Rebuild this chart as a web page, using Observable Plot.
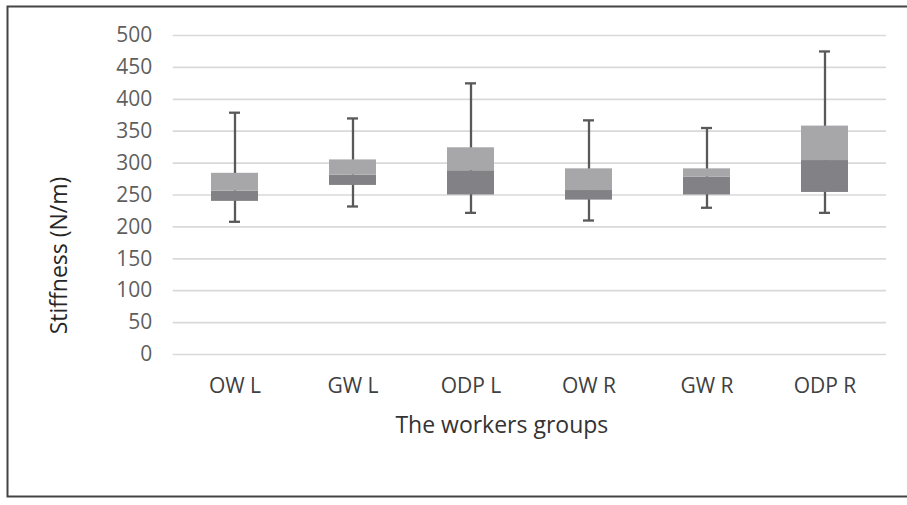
<!DOCTYPE html>
<html>
<head>
<meta charset="utf-8">
<script src="https://cdn.jsdelivr.net/npm/d3@7"></script>
<script src="https://cdn.jsdelivr.net/npm/@observablehq/plot@0.6"></script>
<style>
  html, body { margin: 0; padding: 0; background: #fff; overflow: hidden; }
</style>
</head>
<body>
<div id="chart"></div>
<script>
const groups  = ["OW L", "GW L", "ODP L", "OW R", "GW R", "ODP R"];
const mins    = [208, 232, 222, 210, 230, 222];
const q1s     = [240, 265, 250, 242, 250, 254];
const medians = [256, 281, 288, 257, 278, 304];
const q3s     = [284, 305, 324, 291, 291, 358];
const maxs    = [379, 370, 425, 367, 355, 475];
const yTicks  = [0, 50, 100, 150, 200, 250, 300, 350, 400, 450, 500];
const xTitle  = "The workers groups";
const yTitle  = "Stiffness (N/m)";

const rows = groups.map((g, i) => ({
  group: g, min: mins[i], q1: q1s[i], median: medians[i], q3: q3s[i], max: maxs[i]
}));

const whisker = "#595959";

const chart = Plot.plot({
  width: 907,
  height: 505,
  marginLeft: 172.7,
  marginRight: 21,
  marginTop: 35,
  marginBottom: 151,
  style: { fontFamily: "'Open Sans', sans-serif", background: "#fff", overflow: "visible" },
  x: { domain: groups, paddingInner: 0.6, paddingOuter: 0.3 },
  y: { domain: [0, 500] },
  marks: [
    Plot.gridY(yTicks, { stroke: "#d9d9d9", strokeOpacity: 1, strokeWidth: 1.7 }),
    Plot.axisY(yTicks, { tickSize: 0, tickPadding: 21, fontSize: 21, color: "#5f5f5f", label: null }),
    Plot.axisX({ tickSize: 0, tickPadding: 24, fontSize: 21, color: "#404040", label: null }),
    Plot.ruleX(rows, { x: "group", y1: "min", y2: "max", stroke: whisker, strokeWidth: 2.3 }),
    Plot.tickY(rows, { x: "group", y: "min", stroke: whisker, strokeWidth: 2.3, insetLeft: 18, insetRight: 18 }),
    Plot.tickY(rows, { x: "group", y: "max", stroke: whisker, strokeWidth: 2.3, insetLeft: 18, insetRight: 18 }),
    Plot.barY(rows, { x: "group", y1: "q1", y2: "median", fill: "#828286" }),
    Plot.barY(rows, { x: "group", y1: "median", y2: "q3", fill: "#a7a7aa" }),
    Plot.text([xTitle], { text: d => d, frameAnchor: "bottom", dy: 78, dx: -28, fontSize: 23, fill: "#333" }),
    Plot.text([yTitle], { text: d => d, frameAnchor: "left", textAnchor: "middle", rotate: -90, dx: -114, dy: 60.5, fontSize: 23, fill: "#262626" }),
    Plot.frame({ stroke: "#444", strokeWidth: 2, insetLeft: -165.7, insetTop: -29, insetBottom: -142, insetRight: -22 })
  ]
});

document.getElementById("chart").appendChild(chart);
</script>
</body>
</html>
